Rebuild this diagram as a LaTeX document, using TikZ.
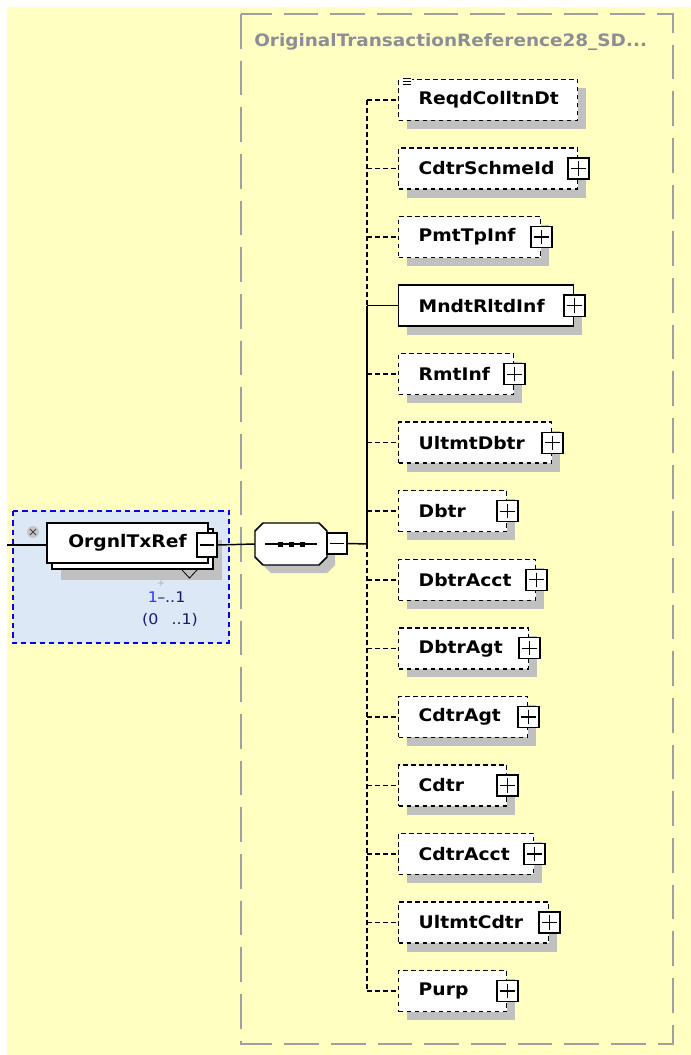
\documentclass[tikz,border=0pt]{standalone}
\usepackage{fontspec}
\setmainfont{DejaVu Sans}[FakeStretch=1.08]
\usetikzlibrary{positioning,shadows}
\definecolor{bgyellow}{RGB}{255,255,194}
\definecolor{selblue}{RGB}{221,232,247}
\definecolor{titlegray}{RGB}{140,142,148}
\definecolor{framegray}{RGB}{160,160,160}
\definecolor{shadowgray}{RGB}{192,192,192}
\definecolor{occblue}{RGB}{51,51,255}
\definecolor{occnavy}{RGB}{25,25,110}
\tikzset{
  elem/.style={draw, fill=white, line width=1.1pt, minimum height=30.75pt,
    anchor=west, inner xsep=15pt, align=left,
    font=\bfseries\fontsize{13}{15}\selectfont,
    drop shadow={shadow xshift=6pt, shadow yshift=-6.5pt, fill=shadowgray, opacity=1}},
  optelem/.style={elem, dash pattern=on 3.5pt off 2.5pt},
  plusbox/.style={draw, solid, fill=white, line width=.9pt, minimum size=15.75pt, inner sep=0pt,
    path picture={
      \draw[line width=.9pt] ([xshift=2.5pt]path picture bounding box.west) -- ([xshift=-2.5pt]path picture bounding box.east);
      \draw[line width=.9pt] ([yshift=-2.5pt]path picture bounding box.north) -- ([yshift=2.5pt]path picture bounding box.south);}},
  minusbox/.style={draw, solid, fill=white, line width=.9pt, inner sep=0pt,
    path picture={
      \draw[line width=.9pt] ([xshift=2.5pt]path picture bounding box.west) -- ([xshift=-2.5pt]path picture bounding box.east);}},
  link/.style={line width=1.1pt},
  optlink/.style={link, dash pattern=on 3.5pt off 2.5pt},
  occ/.style={inner sep=0pt, font=\fontsize{11}{13}\selectfont}
}
\newcommand{\seqoctagon}{(-28,-21) -- (28,-21) -- (36,-13) -- (36,13) -- (28,21) -- (-28,21) -- (-36,13) -- (-36,-13) -- cycle}
\begin{document}
\begin{tikzpicture}[x=0.75pt, y=-0.75pt]
  \useasboundingbox (0,0) rectangle (691,1055);
  \fill[bgyellow] (7,7) rectangle (691,1055);
  % type frame
  \draw[framegray, line width=1.5pt, dash pattern=on 26pt off 9pt] (241,14) rectangle (673,1044);
  \node[anchor=west, inner sep=0pt, text=titlegray, font=\bfseries\fontsize{12.8}{15}\selectfont] (title) at (254,42) {OriginalTransactionReference28\_SD...};
  % left element
  \draw[blue, fill=selblue, line width=1.1pt, dash pattern=on 4pt off 3pt] (13,511) rectangle (229,643);
  \node[draw, fill=white, line width=1.1pt, minimum width=120.75pt, minimum height=30pt,
    font=\bfseries\fontsize{13}{15}\selectfont,
    drop shadow={shadow xshift=10.5pt, shadow yshift=-12.5pt, fill=shadowgray, opacity=1},
    copy shadow={shadow xshift=3.75pt, shadow yshift=-4.5pt, opacity=1, fill=white, draw=black}] (orgnl) at (127.5,543) {OrgnlTxRef};
  \node[minusbox, minimum width=15pt, minimum height=18pt] (orgnl-m) at (207,545) {};
  \draw[line width=.6pt] (182,570) -- (189.5,578) -- (197,570);
  \fill[gray!45] (33,532) circle (6);
  \draw[black!75, line width=.7pt] (30,529) -- (36,535) (30,535) -- (36,529);
  \coordinate (in) at (7,545);
  \draw[link] (in) -- (orgnl.west |- in);
  \node[occ, text=occblue] (minocc) at (153,597) {1};
  \node[inner sep=0pt, text=gray!60, font=\fontsize{7}{8}\selectfont] (plus) at (161,584) {+};
  \node[occ, anchor=west, text=occnavy] (maxocc) at (157,597) {\textendash..1};
  \node[occ, text=occnavy] (range) at (170,620) {(0\hspace{0.9em}..1)};
  % sequence
  \node[minimum width=54pt, minimum height=31.5pt, inner sep=0pt] (seq) at (291,544) {};
  \begin{scope}[shift={(seq.center)}]
    \fill[shadowgray, shift={(8,8)}] \seqoctagon;
    \draw[fill=white, line width=1.1pt] \seqoctagon;
    \draw[line width=.9pt] (-26,0) -- (26,0);
    \fill (-13.5,-2.5) rectangle +(5,5);
    \fill (-2.5,-2.5) rectangle +(5,5);
    \fill (8.5,-2.5) rectangle +(5,5);
  \end{scope}
  \node[minusbox, minimum width=15pt, minimum height=15.75pt] (seq-m) at (337,543.5) {};
  \draw[link] (orgnl-m.east) -- (seq.west);
  \coordinate (spine) at (367,544);
  \draw[link] (seq-m.east) -- (spine);
  % child elements
  \node[optelem, text width=104.25pt] (reqd) at (398,100) {ReqdColltnDt};
  \node[optelem, text width=104.25pt] (schme) at (398,168.5) {CdtrSchmeId};
  \node[optelem, text width=76.5pt] (pmttp) at (398,237.1) {PmtTpInf};
  \node[elem, text width=101.25pt] (mndt) at (398,305.6) {MndtRltdInf};
  \node[optelem, text width=56.25pt] (rmt) at (398,374.2) {RmtInf};
  \node[optelem, text width=84.75pt] (ultdbtr) at (398,442.7) {UltmtDbtr};
  \node[optelem, text width=51pt] (dbtr) at (398,511.2) {Dbtr};
  \node[optelem, text width=72.75pt] (dbtracct) at (398,579.8) {DbtrAcct};
  \node[optelem, text width=67.5pt] (dbtragt) at (398,648.3) {DbtrAgt};
  \node[optelem, text width=66.75pt] (cdtragt) at (398,716.9) {CdtrAgt};
  \node[optelem, text width=51pt] (cdtr) at (398,785.4) {Cdtr};
  \node[optelem, text width=71.25pt] (cdtracct) at (398,853.9) {CdtrAcct};
  \node[optelem, text width=82.5pt] (ultcdtr) at (398,922.5) {UltmtCdtr};
  \node[optelem, text width=51pt] (purp) at (398,991) {Purp};
  \begin{scope}[shift={(reqd.north west)}]
    \fill[white] (3,-1) rectangle (14,7);
    \draw[line width=.6pt] (5,0) -- (13,0) (5,3) -- (13,3) (5,6) -- (13,6);
  \end{scope}
  \node[plusbox] (schme-p) at (schme.east) {};
  \node[plusbox] (pmttp-p) at (pmttp.east) {};
  \node[plusbox] (mndt-p) at (mndt.east) {};
  \node[plusbox] (rmt-p) at (rmt.east) {};
  \node[plusbox] (ultdbtr-p) at (ultdbtr.east) {};
  \node[plusbox] (dbtr-p) at (dbtr.east) {};
  \node[plusbox] (dbtracct-p) at (dbtracct.east) {};
  \node[plusbox] (dbtragt-p) at (dbtragt.east) {};
  \node[plusbox] (cdtragt-p) at (cdtragt.east) {};
  \node[plusbox] (cdtr-p) at (cdtr.east) {};
  \node[plusbox] (cdtracct-p) at (cdtracct.east) {};
  \node[plusbox] (ultcdtr-p) at (ultcdtr.east) {};
  \node[plusbox] (purp-p) at (purp.east) {};
  % spine and branches
  \draw[optlink] (spine |- reqd) -- (spine |- mndt);
  \draw[link] (spine |- mndt) -- (spine);
  \draw[optlink] (spine) -- (spine |- purp);
  \draw[optlink] (spine |- reqd) -- (reqd.west);
  \draw[optlink] (spine |- schme) -- (schme.west);
  \draw[optlink] (spine |- pmttp) -- (pmttp.west);
  \draw[link] (spine |- mndt) -- (mndt.west);
  \draw[optlink] (spine |- rmt) -- (rmt.west);
  \draw[optlink] (spine |- ultdbtr) -- (ultdbtr.west);
  \draw[optlink] (spine |- dbtr) -- (dbtr.west);
  \draw[optlink] (spine |- dbtracct) -- (dbtracct.west);
  \draw[optlink] (spine |- dbtragt) -- (dbtragt.west);
  \draw[optlink] (spine |- cdtragt) -- (cdtragt.west);
  \draw[optlink] (spine |- cdtr) -- (cdtr.west);
  \draw[optlink] (spine |- cdtracct) -- (cdtracct.west);
  \draw[optlink] (spine |- ultcdtr) -- (ultcdtr.west);
  \draw[optlink] (spine |- purp) -- (purp.west);
\end{tikzpicture}
\end{document}
